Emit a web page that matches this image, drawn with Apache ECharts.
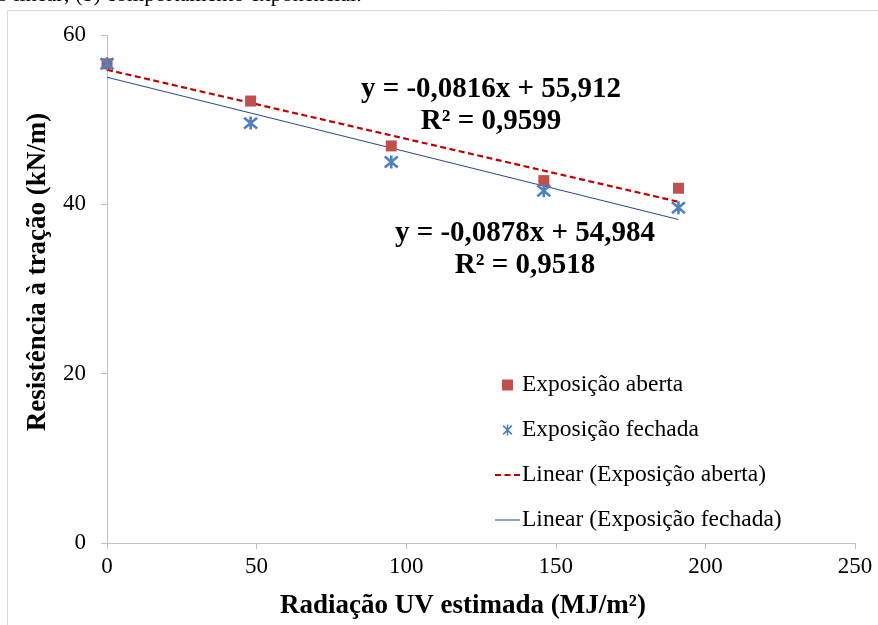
<!DOCTYPE html>
<html>
<head>
<meta charset="utf-8">
<script src="https://cdn.jsdelivr.net/npm/echarts@6/dist/echarts.min.js"></script>
<style>
html,body{margin:0;padding:0;background:#fff;}
#chart{width:878px;height:625px;}
</style>
</head>
<body>
<div id="chart"></div>
<script>
// Data
var radiacaoUV = [0, 48, 95, 146, 191];
var exposicaoAberta = [56.6, 52.2, 46.9, 42.8, 41.9];
var exposicaoFechada = [56.6, 49.6, 45.0, 41.6, 39.6];
// Trend line end points (as drawn)
var trendX = [0, 191];
var trendAberta = [55.9, 40.3];
var trendFechada = [55.0, 38.2];
var xTicks = [0, 50, 100, 150, 200, 250];
var yTicks = [0, 20, 40, 60];
var eqAberta = ['y = -0,0816x + 55,912', 'R² = 0,9599'];
var eqFechada = ['y = -0,0878x + 54,984', 'R² = 0,9518'];
var xTitle = 'Radiação UV estimada (MJ/m²)';
var yTitle = 'Resistência à tração (kN/m)';
var topText = 'o linear; (b) comportamento exponencial.';

var FONT = '"Liberation Serif", "Times New Roman", serif';
function pairs(xs, ys){ return xs.map(function(x,i){ return [x, ys[i]]; }); }

var starPath = 'path://M0,0 L10,10 M10,0 L0,10 M5,-1 L5,11';
var starIcon = 'path://M0,1.2 L1.2,0 L10,8.8 L8.8,10 Z M8.8,0 L10,1.2 L1.2,10 L0,8.8 Z M4.2,-0.6 L5.8,-0.6 L5.8,10.6 L4.2,10.6 Z';
var squareIcon = 'path://M0,0 L10,0 L10,10 L0,10 Z';
var dashIcon = 'path://M0,0 L6,0 L6,2 L0,2 Z M9.5,0 L15.5,0 L15.5,2 L9.5,2 Z M19,0 L25,0 L25,2 L19,2 Z';
var solidIcon = 'path://M0,0 L25,0 L25,1.1 L0,1.1 Z';

var chart = echarts.init(document.getElementById('chart'));
var option = {
  backgroundColor: '#fff',
  animation: false,
  grid: {left: 107, right: 23, top: 35, bottom: 82},
  xAxis: {
    type: 'value', min: 0, max: 250, interval: 50,
    axisLine: {show: true, lineStyle: {color: '#bfbfbf', width: 1}},
    axisTick: {show: true, inside: false, length: 6, lineStyle: {color: '#bfbfbf'}},
    axisLabel: {fontFamily: FONT, fontSize: 23, color: '#000', margin: 12,
      formatter: function(v){ return xTicks.indexOf(v) >= 0 ? String(v) : ''; }},
    splitLine: {show: false}
  },
  yAxis: {
    type: 'value', min: 0, max: 60, interval: 20,
    axisLine: {show: true, lineStyle: {color: '#bfbfbf', width: 1}},
    axisTick: {show: true, inside: false, length: 6, lineStyle: {color: '#bfbfbf'}},
    axisLabel: {fontFamily: FONT, fontSize: 23, color: '#000', margin: 21,
      formatter: function(v){ return yTicks.indexOf(v) >= 0 ? String(v) : ''; }},
    splitLine: {show: false}
  },
  legend: {
    orient: 'vertical', left: 490, top: 368,
    itemWidth: 25, itemHeight: 11, itemGap: 21,
    textStyle: {fontFamily: FONT, fontSize: 23.5, lineHeight: 23, color: '#000', padding: [0,0,0,-3]},
    data: [
      {name: 'Exposição aberta', icon: squareIcon, itemStyle: {color: '#C0504D'}},
      {name: 'Exposição fechada', icon: starIcon, itemStyle: {color: '#4F81BD', borderWidth: 0}},
      {name: 'Linear (Exposição aberta)', icon: dashIcon, itemStyle: {color: '#C00000', borderWidth: 0}},
      {name: 'Linear (Exposição fechada)', icon: solidIcon, itemStyle: {color: '#2F528F', borderWidth: 0}}
    ]
  },
  series: [
    {
      name: 'Linear (Exposição aberta)', type: 'line', symbol: 'none', z: 2,
      data: pairs(trendX, trendAberta),
      lineStyle: {color: '#C00000', width: 2.2, type: [6, 3.5]},
      itemStyle: {color: '#C00000'}
    },
    {
      name: 'Linear (Exposição fechada)', type: 'line', symbol: 'none', z: 2,
      data: pairs(trendX, trendFechada),
      lineStyle: {color: '#2F528F', width: 1.1},
      itemStyle: {color: '#2F528F'}
    },
    {
      name: 'Exposição aberta', type: 'scatter', symbol: 'rect', symbolSize: 11, z: 3,
      data: pairs(radiacaoUV, exposicaoAberta),
      itemStyle: {color: '#C0504D', opacity: 1}
    },
    {
      name: 'Exposição fechada', type: 'scatter', symbol: starPath, symbolSize: 13, z: 4,
      data: pairs(radiacaoUV, exposicaoFechada),
      itemStyle: {color: 'rgba(0,0,0,0)', borderColor: '#4F81BD', borderWidth: 2.6, opacity: 1}
    }
  ],
  graphic: [
    {type: 'rect', left: 5, top: 8, shape: {width: 900, height: 640},
      style: {fill: 'none', stroke: '#d9d9d9', lineWidth: 1}, silent: true, z: -10},
    {type: 'text', left: -3, top: -16,
      style: {text: topText, font: '22px ' + FONT, fill: '#000'}},
    {type: 'text', x: 463, y: 606,
      style: {text: xTitle, font: 'bold 27px ' + FONT, fill: '#000', align: 'center', verticalAlign: 'middle'}},
    {type: 'text', x: 38, y: 272, rotation: Math.PI / 2,
      style: {text: yTitle, font: 'bold 27px ' + FONT, fill: '#000', align: 'center', verticalAlign: 'middle'}},
    {type: 'text', x: 491, y: 90,
      style: {text: eqAberta[0], font: 'bold 29px ' + FONT, fill: '#000', align: 'center', verticalAlign: 'middle'}},
    {type: 'text', x: 491, y: 122,
      style: {text: eqAberta[1], font: 'bold 29px ' + FONT, fill: '#000', align: 'center', verticalAlign: 'middle'}},
    {type: 'text', x: 525, y: 234,
      style: {text: eqFechada[0], font: 'bold 29px ' + FONT, fill: '#000', align: 'center', verticalAlign: 'middle'}},
    {type: 'text', x: 525, y: 266,
      style: {text: eqFechada[1], font: 'bold 29px ' + FONT, fill: '#000', align: 'center', verticalAlign: 'middle'}}
  ]
};
chart.setOption(option);
</script>
</body>
</html>
